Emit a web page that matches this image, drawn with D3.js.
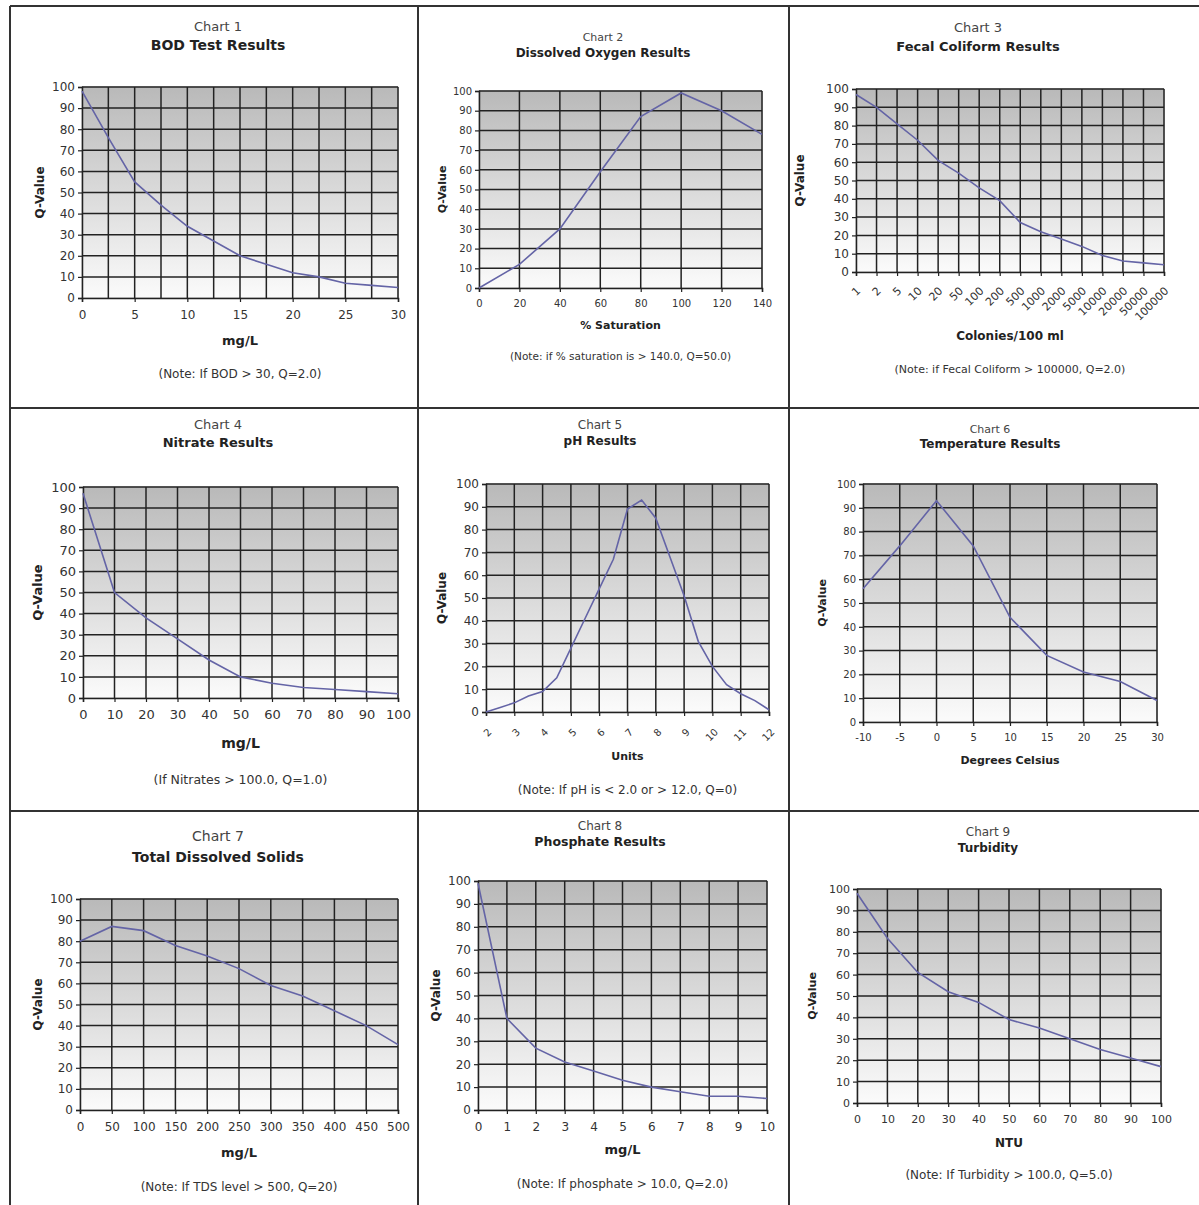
<!DOCTYPE html>
<html>
<head>
<meta charset="utf-8">
<script src="https://cdn.jsdelivr.net/npm/d3@7"></script>
<style>
  body { margin: 0; background: #fff; }
  svg text { font-family: "DejaVu Sans", Verdana, sans-serif; }
  .tick text { fill: #333; }
</style>
</head>
<body>
<div id="chart"></div>
<script>
// ---- data ----
const bodX = [0, 2.5, 5, 7.5, 10, 12.5, 15, 17.5, 20, 22.5, 25, 27.5, 30];
const bodQ = [98, 76, 55, 44, 34, 27, 20, 16, 12, 10, 7, 6, 5];

const doX = [0, 20, 40, 60, 80, 100, 120, 140];
const doQ = [0, 12, 30, 59, 87, 99, 90, 78];

const fecalX = ["1", "2", "5", "10", "20", "50", "100", "200", "500", "1000", "2000", "5000", "10000", "20000", "50000", "100000"];
const fecalQ = [97, 90, 81, 72, 61, 54, 46, 39, 27, 22, 18, 14, 9, 6, 5, 4];

const nitrateX = [0, 10, 20, 30, 40, 50, 60, 70, 80, 90, 100];
const nitrateQ = [97, 50, 38, 28, 18, 10, 7, 5, 4, 3, 2];

const phX = [2, 2.5, 3, 3.5, 4, 4.5, 5, 5.5, 6, 6.5, 7, 7.5, 8, 8.5, 9, 9.5, 10, 10.5, 11, 11.5, 12];
const phQ = [0, 2, 4, 7, 9, 15, 28, 41, 54, 67, 89, 93, 85, 68, 51, 31, 20, 12, 8, 5, 1];

const tempX = [-10, -5, 0, 5, 10, 15, 20, 25, 30];
const tempQ = [56, 74, 93, 74, 44, 28, 21, 17, 9];

const tdsX = [0, 50, 100, 150, 200, 250, 300, 350, 400, 450, 500];
const tdsQ = [80, 87, 85, 78, 73, 67, 59, 54, 47, 40, 31];

const phosX = [0, 1, 2, 3, 4, 5, 6, 7, 8, 9, 10];
const phosQ = [99, 40, 27, 21, 17, 13, 10, 8, 6, 6, 5];

const turbX = [0, 10, 20, 30, 40, 50, 60, 70, 80, 90, 100];
const turbQ = [98, 77, 61, 52, 47, 39, 35, 30, 25, 21, 17];

const qTicks = d3.range(0, 101, 10);

// ---- panel layout ----
const panels = [
  { sub: "Chart 1", title: "BOD Test Results", xs: bodX, qs: bodQ, dom: [0, 30],
    grid: d3.range(0, 30.01, 2.5), ticks: d3.range(0, 31, 5),
    l: 82, t: 87, r: 398, b: 298, cx: 218, subY: 31, titleY: 50, tfs: 14, sfs: 13,
    fs: 12, xl: "mg/L", xlY: 345, note: "(Note: If BOD > 30, Q=2.0)", noteY: 378, nfs: 12, qx: 44 },
  { sub: "Chart 2", title: "Dissolved Oxygen Results", xs: doX, qs: doQ, dom: [0, 140],
    grid: d3.range(0, 141, 20), ticks: d3.range(0, 141, 20),
    l: 479, t: 91, r: 762, b: 288, cx: 603, subY: 41, titleY: 57, tfs: 12, sfs: 11,
    fs: 10, xl: "% Saturation", xlY: 329, note: "(Note: if % saturation is > 140.0, Q=50.0)", noteY: 360, nfs: 10.5, qx: 446 },
  { sub: "Chart 3", title: "Fecal Coliform Results", cats: fecalX, qs: fecalQ,
    l: 856, t: 89, r: 1164, b: 272, cx: 978, subY: 32, titleY: 51, tfs: 13, sfs: 13,
    fs: 12, xfs: 11, xl: "Colonies/100 ml", xlY: 340, note: "(Note: if Fecal Coliform > 100000, Q=2.0)", noteY: 373, nfs: 11, qx: 804 },
  { sub: "Chart 4", title: "Nitrate Results", xs: nitrateX, qs: nitrateQ, dom: [0, 100],
    grid: d3.range(0, 101, 10), ticks: d3.range(0, 101, 10),
    l: 83, t: 487, r: 398, b: 698, cx: 218, subY: 429, titleY: 447, tfs: 13, sfs: 13,
    fs: 13, xl: "mg/L", xlY: 748, note: "(If Nitrates > 100.0, Q=1.0)", noteY: 784, nfs: 12.5, qx: 42 },
  { sub: "Chart 5", title: "pH Results", xs: phX, qs: phQ, dom: [2, 12],
    grid: d3.range(2, 12.01, 1), ticks: d3.range(2, 12.01, 1), rot: true,
    l: 486, t: 484, r: 769, b: 712, cx: 600, subY: 429, titleY: 445, tfs: 12, sfs: 12,
    fs: 12, xfs: 10, xl: "Units", xlY: 760, note: "(Note: If pH is < 2.0 or > 12.0, Q=0)", noteY: 794, nfs: 12, qx: 446 },
  { sub: "Chart 6", title: "Temperature Results", xs: tempX, qs: tempQ, dom: [-10, 30],
    grid: d3.range(-10, 31, 5), ticks: d3.range(-10, 31, 5),
    l: 863, t: 484, r: 1157, b: 722, cx: 990, subY: 433, titleY: 448, tfs: 12, sfs: 11,
    fs: 10, xl: "Degrees Celsius", xlY: 764, note: null, qx: 826 },
  { sub: "Chart 7", title: "Total Dissolved Solids", xs: tdsX, qs: tdsQ, dom: [0, 500],
    grid: d3.range(0, 501, 50), ticks: d3.range(0, 501, 50),
    l: 80, t: 899, r: 398, b: 1110, cx: 218, subY: 841, titleY: 862, tfs: 14, sfs: 14,
    fs: 12, xl: "mg/L", xlY: 1157, note: "(Note: If TDS level > 500, Q=20)", noteY: 1191, nfs: 12, qx: 42 },
  { sub: "Chart 8", title: "Phosphate Results", xs: phosX, qs: phosQ, dom: [0, 10],
    grid: d3.range(0, 11, 1), ticks: d3.range(0, 11, 1),
    l: 478, t: 881, r: 767, b: 1110, cx: 600, subY: 830, titleY: 846, tfs: 12.5, sfs: 12,
    fs: 12, xl: "mg/L", xlY: 1154, note: "(Note: If phosphate > 10.0, Q=2.0)", noteY: 1188, nfs: 12, qx: 440 },
  { sub: "Chart 9", title: "Turbidity", xs: turbX, qs: turbQ, dom: [0, 100],
    grid: d3.range(0, 101, 10), ticks: d3.range(0, 101, 10),
    l: 857, t: 889, r: 1161, b: 1103, cx: 988, subY: 836, titleY: 852, tfs: 12, sfs: 12,
    fs: 11, xl: "NTU", xlY: 1147, note: "(Note:  If Turbidity > 100.0, Q=5.0)", noteY: 1179, nfs: 12, qx: 816 }
];

const W = 1199, H = 1205;
const svg = d3.select("#chart").append("svg").attr("width", W).attr("height", H);

const defs = svg.append("defs");
const grad = defs.append("linearGradient").attr("id", "bg").attr("x1", 0).attr("y1", 0).attr("x2", 0).attr("y2", 1);
grad.append("stop").attr("offset", "0%").attr("stop-color", "#b9b9b9");
grad.append("stop").attr("offset", "100%").attr("stop-color", "#fbfbfb");

panels.forEach(p => {
  const g = svg.append("g");
  const x = p.cats
    ? d3.scalePoint().domain(p.cats).range([p.l, p.r])
    : d3.scaleLinear().domain(p.dom).range([p.l, p.r]);
  const y = d3.scaleLinear().domain([0, 100]).range([p.b, p.t]);

  g.append("rect")
    .attr("x", p.l).attr("y", p.t)
    .attr("width", p.r - p.l).attr("height", p.b - p.t)
    .attr("fill", "url(#bg)")
    .attr("stroke", "#bbb");

  // grid
  g.append("g").selectAll("line").data(qTicks.slice(1)).join("line")
    .attr("x1", p.l).attr("x2", p.r)
    .attr("y1", d => y(d)).attr("y2", d => y(d))
    .attr("stroke", "#222").attr("stroke-width", 1.5);
  const gx = p.cats ? p.cats : p.grid;
  g.append("g").selectAll("line").data(gx.slice(1)).join("line")
    .attr("x1", d => x(d)).attr("x2", d => x(d))
    .attr("y1", p.t).attr("y2", p.b)
    .attr("stroke", "#222").attr("stroke-width", 1.5);

  // axes
  const ya = g.append("g").attr("transform", `translate(${p.l},0)`)
    .call(d3.axisLeft(y).tickValues(qTicks).tickSize(4).tickPadding(3));
  ya.selectAll("text").attr("font-size", p.fs);

  const xa = g.append("g").attr("transform", `translate(0,${p.b})`)
    .call(p.cats ? d3.axisBottom(x).tickSize(4)
      : d3.axisBottom(x).tickValues(p.ticks).tickFormat(d => String(d)).tickSize(4).tickPadding(p.rot ? 5 : 8));
  xa.selectAll("text").attr("font-size", p.xfs || p.fs);
  [ya, xa].forEach(a => {
    a.select(".domain").attr("stroke", "#222").attr("stroke-width", 1.5);
    a.selectAll(".tick line").attr("stroke", "#222").attr("stroke-width", 1.2);
  });
  if (p.cats || p.rot) {
    xa.selectAll("text")
      .attr("text-anchor", "end")
      .attr("dy", "0.35em")
      .attr("transform", "translate(-3,12) rotate(-45)");
  }

  // curve
  const pts = p.qs.map((q, i) => [p.cats ? p.cats[i] : p.xs[i], q]);
  g.append("path")
    .datum(pts)
    .attr("fill", "none")
    .attr("stroke", "#6464a6")
    .attr("stroke-width", 1.6)
    .attr("d", d3.line().x(d => x(d[0])).y(d => y(d[1])));

  // texts
  g.append("text").attr("x", p.cx).attr("y", p.subY).attr("text-anchor", "middle")
    .attr("font-size", p.sfs).attr("fill", "#444").text(p.sub);
  g.append("text").attr("x", p.cx).attr("y", p.titleY).attr("text-anchor", "middle")
    .attr("font-size", p.tfs).attr("font-weight", "bold").attr("fill", "#222").text(p.title);
  g.append("text").attr("x", (p.l + p.r) / 2).attr("y", p.xlY).attr("text-anchor", "middle")
    .attr("font-size", (p.xfs || p.fs) + 1).attr("font-weight", "bold").attr("fill", "#222").text(p.xl);
  g.append("text")
    .attr("transform", `translate(${p.qx},${(p.t + p.b) / 2}) rotate(-90)`)
    .attr("text-anchor", "middle")
    .attr("font-size", Math.max(p.fs, 11)).attr("font-weight", "bold").attr("fill", "#222").text("Q-Value");
  if (p.note) {
    g.append("text").attr("x", (p.l + p.r) / 2).attr("y", p.noteY).attr("text-anchor", "middle")
      .attr("font-size", p.nfs).attr("fill", "#333").text(p.note);
  }
});

// panel frame
const frame = svg.append("g").attr("stroke", "#333").attr("stroke-width", 2);
frame.append("line").attr("x1", 10).attr("x2", W).attr("y1", 6).attr("y2", 6);
frame.append("line").attr("x1", 10).attr("x2", 10).attr("y1", 6).attr("y2", H);
[418, 789].forEach(v => frame.append("line").attr("x1", v).attr("x2", v).attr("y1", 6).attr("y2", H));
[408, 811].forEach(v => frame.append("line").attr("x1", 10).attr("x2", W).attr("y1", v).attr("y2", v));
</script>
</body>
</html>
